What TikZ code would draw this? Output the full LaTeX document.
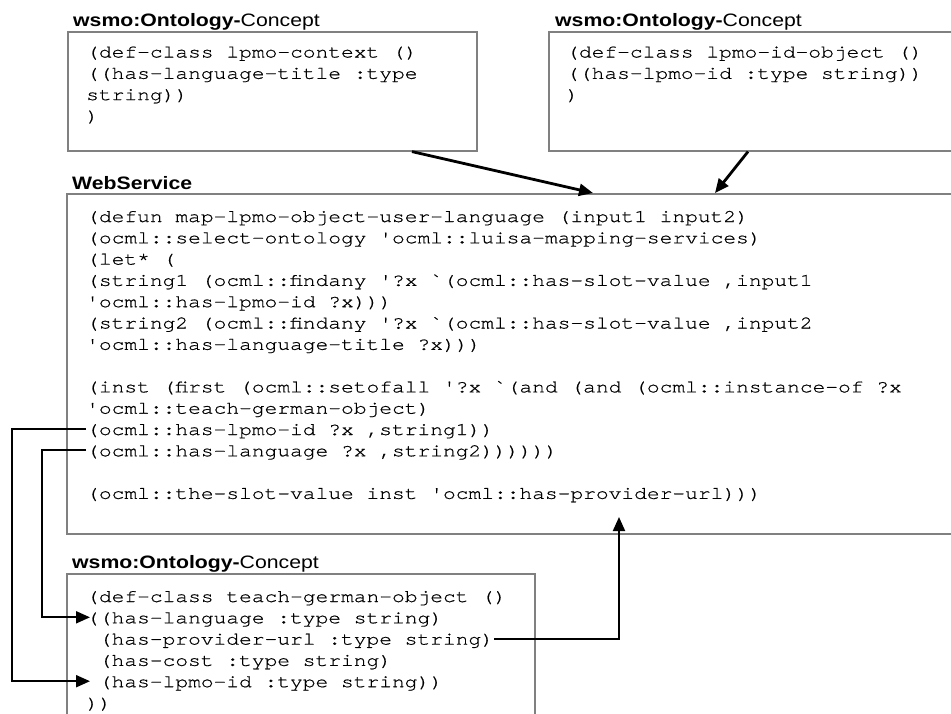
\documentclass[tikz,border=0pt]{standalone}
\usepackage{fontspec}
\setmainfont[FakeStretch=1.18]{Liberation Sans}
\setmonofont[FakeStretch=1.18,FakeBold=0.6]{TeX Gyre Cursor}
\usetikzlibrary{arrows.meta}
\definecolor{boxgray}{RGB}{128,128,128}
\newcommand\mycode{\ttfamily\fontsize{18pt}{21pt}\selectfont}
\newcommand\mytitle{\rmfamily\fontsize{18pt}{21pt}\selectfont}
\tikzset{
  box/.style={draw=boxgray, line width=1.6pt, fill=white, inner sep=0pt, anchor=north west},
  codeline/.style={font=\mycode, inner sep=0pt, anchor=base west, text height=12pt, text depth=0pt},
  ttl/.style={font=\mytitle, inner sep=0pt, anchor=base west},
  conn/.style={draw=black, line width=2pt},
  thickconn/.style={draw=black, line width=2.8pt},
  headend/.style={-{Triangle[length=14pt,width=12pt]}},
}
\begin{document}
\begin{tikzpicture}[x=1pt,y=-1pt]
\useasboundingbox (0,0) rectangle (951,713);
\fill[white] (0,0) rectangle (951,713);
\clip (0,0) rectangle (951,713);

% boxes
\node[box, minimum width=409pt, minimum height=119pt] (ctx) at (67,31) {};
\node[box, minimum width=420pt, minimum height=119pt] (ido) at (548,31) {};
\node[box, minimum width=900pt, minimum height=340pt] (ws) at (66,193) {};
\node[box, minimum width=468pt, minimum height=160pt] (tg) at (66,573) {};

% titles
\node[ttl] (t1) at (73,26) {\textbf{wsmo:Ontology-}Concept};
\node[ttl] (t2) at (555,26) {\textbf{wsmo:Ontology-}Concept};
\node[ttl] (t3) at (72,189) {\textbf{WebService}};
\node[ttl] (t4) at (72,568) {\textbf{wsmo:Ontology-}Concept};

% lpmo-context
\node[codeline] (a1) at (86,57.5) {(def-class lpmo-context ()};
\node[codeline] (a2) at (86,78.8) {((has-language-title :type};
\node[codeline] (a3) at (86,100.1) {string))};
\node[codeline] (a4) at (86,121.4) {)};

% lpmo-id-object
\node[codeline] (i1) at (566,57.5) {(def-class lpmo-id-object ()};
\node[codeline] (i2) at (566,78.8) {((has-lpmo-id :type string))};
\node[codeline] (i3) at (566,100.1) {)};

% web service
\node[codeline] (w1) at (86,222) {(defun map-lpmo-object-user-language (input1 input2)};
\node[codeline] (w2) at (86,243.3) {(ocml::select-ontology 'ocml::luisa-mapping-services)};
\node[codeline] (w3) at (86,264.6) {(let* (};
\node[codeline] (w4) at (86,285.9) {(string1 (ocml::findany '?x `(ocml::has-slot-value ,input1};
\node[codeline] (w5) at (86,307.2) {'ocml::has-lpmo-id ?x)))};
\node[codeline] (w6) at (86,328.5) {(string2 (ocml::findany '?x `(ocml::has-slot-value ,input2};
\node[codeline] (w7) at (86,349.8) {'ocml::has-language-title ?x)))};
\node[codeline] (w9) at (86,392.4) {(inst (first (ocml::setofall '?x `(and (and (ocml::instance-of ?x};
\node[codeline] (w10) at (86,413.7) {'ocml::teach-german-object)};
\node[codeline] (w11) at (86,435) {(ocml::has-lpmo-id ?x ,string1))};
\node[codeline] (w12) at (86,456.3) {(ocml::has-language ?x ,string2))))))};
\node[codeline] (w14) at (86,498.9) {(ocml::the-slot-value inst 'ocml::has-provider-url)))};

% teach-german-object
\node[codeline] (b1) at (86,602) {(def-class teach-german-object ()};
\node[codeline] (b2) at (86,623.3) {((has-language :type string)};
\node[codeline] (b3) at (98.7,644.6) {(has-provider-url :type string)};
\node[codeline] (b4) at (98.7,665.9) {(has-cost :type string)};
\node[codeline] (b5) at (98.7,687.2) {(has-lpmo-id :type string))};
\node[codeline] (b6) at (86,708.5) {))};

% connectors
\coordinate (ox) at (12,0);
\coordinate (ix) at (42,0);
\coordinate (tipx) at (90,0);
\coordinate (ptip) at (619,517);

\draw[thickconn, headend] ([xshift=345pt]ctx.south west) -- ([xshift=527pt]ws.north west);
\draw[thickconn, headend] ([xshift=200pt]ido.south west) -- ([xshift=649pt]ws.north west);
\draw[conn, headend] (b3.east) -| (ptip);
\draw[conn, headend] (w11.west) -- (w11.west -| ox) -- (ox |- b5.west) -- (tipx |- b5.west);
\draw[conn, headend] (w12.west) -- (w12.west -| ix) -- (ix |- b2.west) -- (tipx |- b2.west);
\end{tikzpicture}
\end{document}
